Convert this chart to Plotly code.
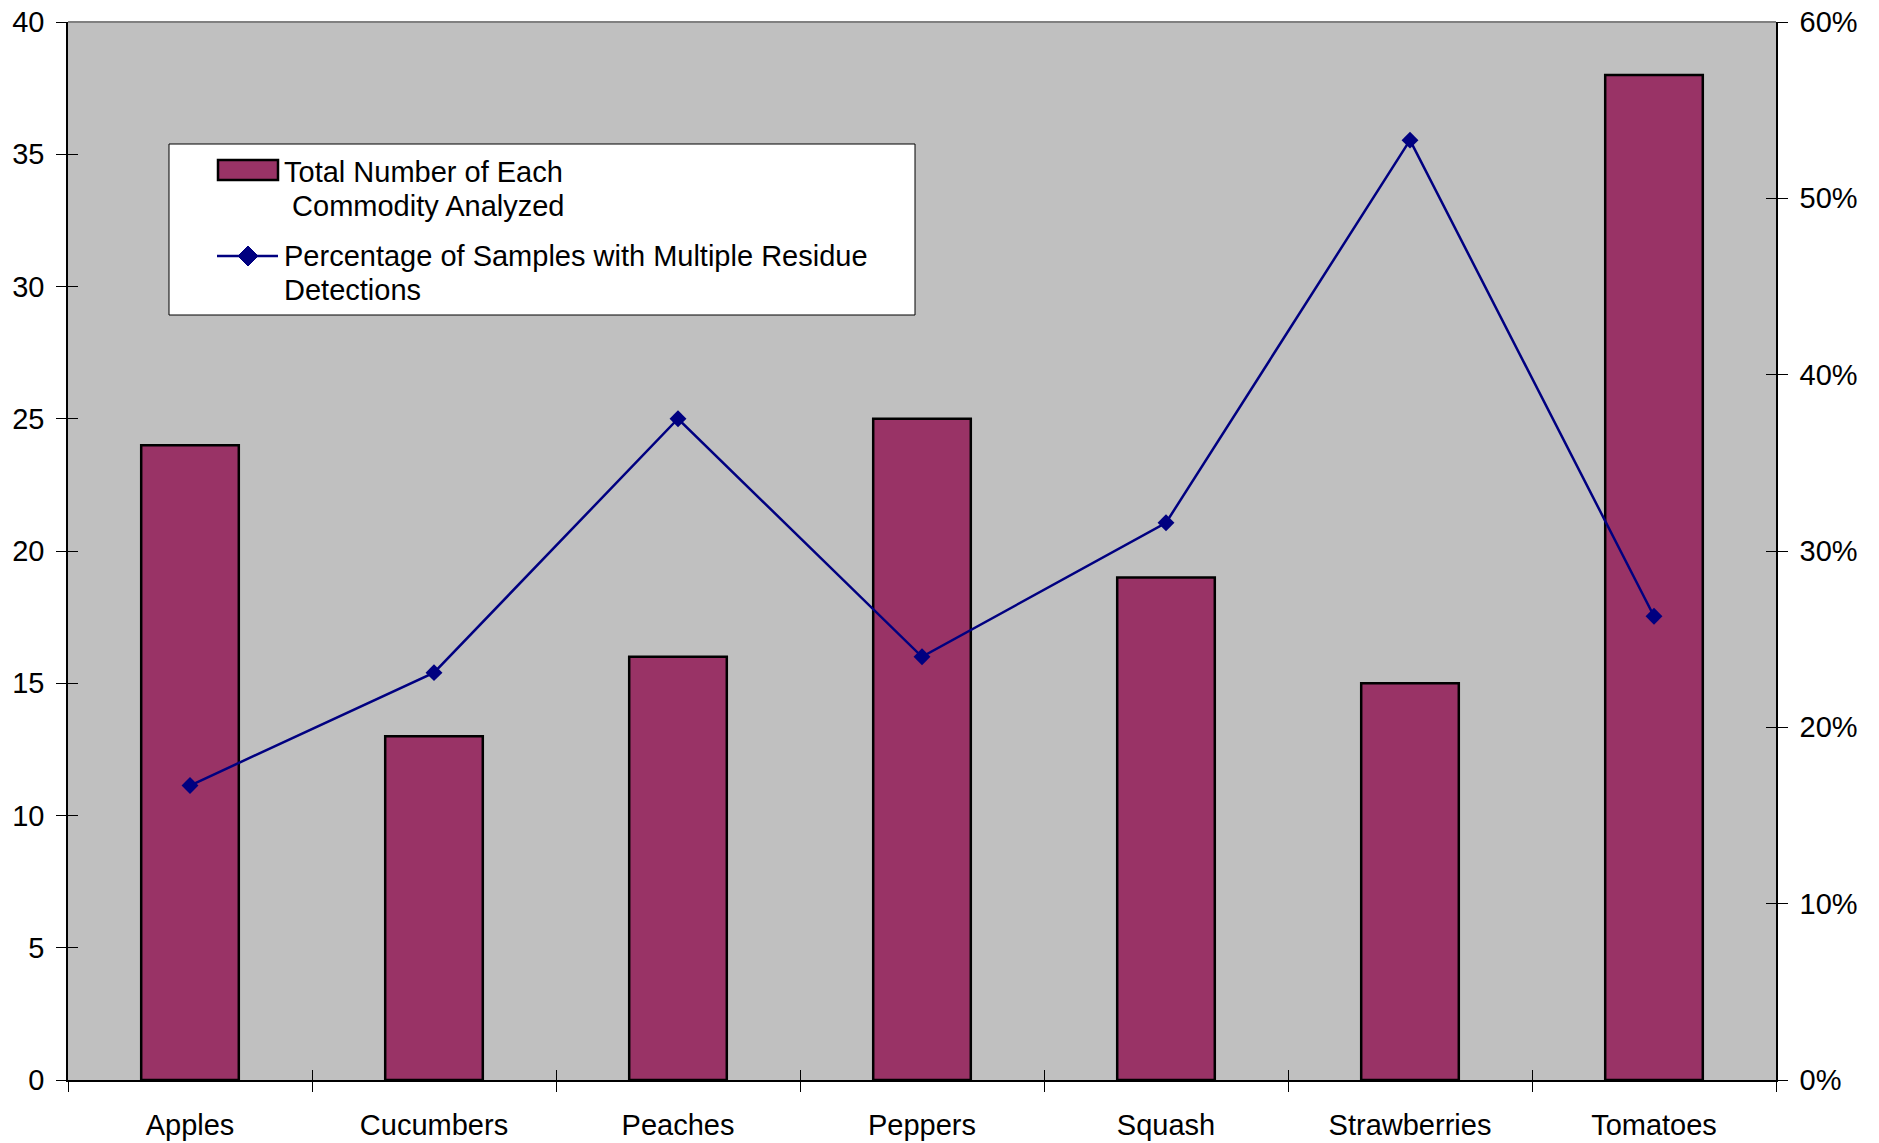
import plotly.graph_objects as go

categories = ["Apples", "Cucumbers", "Peaches", "Peppers", "Squash", "Strawberries", "Tomatoes"]
total_analyzed = [24, 13, 16, 25, 19, 15, 38]
pct_multiple = [0.167, 0.231, 0.375, 0.240, 0.316, 0.533, 0.263]

legend_lines_bar = ["Total Number of Each", " Commodity Analyzed"]
legend_lines_line = ["Percentage of Samples with Multiple Residue", "Detections"]

FONT = "Liberation Sans, Arial, sans-serif"
BAR_COLOR = "#993366"
LINE_COLOR = "#000080"

W, H = 1879, 1143
ML, MR, MT, MB = 68, 103, 22, 63
PW, PH = W - ML - MR, H - MT - MB


def px(xp):
    return (xp - ML) / PW


def py(yp):
    return 1 - (yp - MT) / PH


fig = go.Figure()
fig.add_trace(go.Bar(
    x=categories, y=total_analyzed, name="Total Number of Each Commodity Analyzed",
    marker=dict(color=BAR_COLOR, line=dict(color="black", width=2.5)),
    yaxis="y",
))
fig.add_trace(go.Scatter(
    x=categories, y=pct_multiple, name="Percentage of Samples with Multiple Residue Detections",
    mode="lines+markers",
    line=dict(color=LINE_COLOR, width=2.5),
    marker=dict(symbol="diamond", size=13, color=LINE_COLOR),
    yaxis="y2",
))
# empty helper traces so the inner-tick overlay axes get drawn
fig.add_trace(go.Scatter(x=categories, y=[None] * len(categories), xaxis="x2", yaxis="y3",
                         mode="markers", showlegend=False, hoverinfo="skip"))
fig.add_trace(go.Scatter(x=categories, y=[None] * len(categories), xaxis="x", yaxis="y4",
                         mode="markers", showlegend=False, hoverinfo="skip"))

axis_common = dict(showgrid=False, zeroline=False, automargin=False,
                   tickcolor="black", tickfont=dict(size=29))

# Custom legend (decoration only)
shapes = [
    dict(type="line", xref="paper", yref="paper", x0=0, x1=1, y0=1, y1=1,
         line=dict(color="#808080", width=2), layer="above"),
    dict(type="rect", xref="paper", yref="paper", x0=px(169), x1=px(915), y0=py(144), y1=py(315),
         fillcolor="white", line=dict(color="black", width=1), layer="above"),
    dict(type="rect", xref="paper", yref="paper", x0=px(218), x1=px(278), y0=py(160), y1=py(180),
         fillcolor=BAR_COLOR, line=dict(color="black", width=2.5), layer="above"),
    dict(type="line", xref="paper", yref="paper", x0=px(217), x1=px(278), y0=py(256), y1=py(256),
         line=dict(color=LINE_COLOR, width=2.5), layer="above"),
    dict(type="path", xref="paper", yref="paper",
         path=f"M {px(248)},{py(246)} L {px(258)},{py(256)} L {px(248)},{py(266)} L {px(238)},{py(256)} Z",
         fillcolor=LINE_COLOR, line=dict(color=LINE_COLOR, width=1), layer="above"),
]

ann_font = dict(family=FONT, size=29, color="black")
annotations = []
for text, yc, xl in [(legend_lines_bar[0], 172, 282), (legend_lines_bar[1], 206, 282),
                     (legend_lines_line[0], 256, 282), (legend_lines_line[1], 290, 282)]:
    t = "&nbsp;" + text[1:] if text.startswith(" ") else text
    annotations.append(dict(xref="paper", yref="paper", x=px(xl), y=py(yc), text=t,
                            showarrow=False, xanchor="left", yanchor="middle", font=ann_font))

fig.update_layout(
    width=W, height=H,
    margin=dict(l=ML, r=MR, t=MT, b=MB),
    paper_bgcolor="white",
    plot_bgcolor="#C0C0C0",
    bargap=0.6,
    font=dict(family=FONT, size=29, color="black"),
    showlegend=False,
    xaxis=dict(
        type="category", showline=True, linecolor="black", linewidth=1.5,
        ticks="outside", tickson="boundaries", ticklen=10, ticklabelstandoff=18,
        **axis_common,
    ),
    xaxis2=dict(
        type="category", matches="x", overlaying="x", anchor="y", side="bottom", showline=False,
        ticks="inside", tickson="boundaries", ticklen=10, showticklabels=False,
        **axis_common,
    ),
    yaxis=dict(
        range=[0, 40], dtick=5, showline=True, linecolor="black", linewidth=1.5,
        ticks="outside", ticklen=10, ticklabelstandoff=6,
        **axis_common,
    ),
    yaxis3=dict(
        range=[0, 40], dtick=5, overlaying="y", side="left", anchor="x", showline=False,
        ticks="inside", ticklen=10, showticklabels=False,
        **axis_common,
    ),
    yaxis2=dict(
        range=[0, 0.6], dtick=0.1, tickformat=".0%", overlaying="y", side="right",
        showline=True, linecolor="black", linewidth=1.5,
        ticks="outside", ticklen=10, ticklabelstandoff=6,
        **axis_common,
    ),
    yaxis4=dict(
        range=[0, 0.6], dtick=0.1, overlaying="y", side="right", anchor="x", showline=False,
        ticks="inside", ticklen=10, showticklabels=False,
        **axis_common,
    ),
    shapes=shapes,
    annotations=annotations,
)

fig.write_html("out.html")
